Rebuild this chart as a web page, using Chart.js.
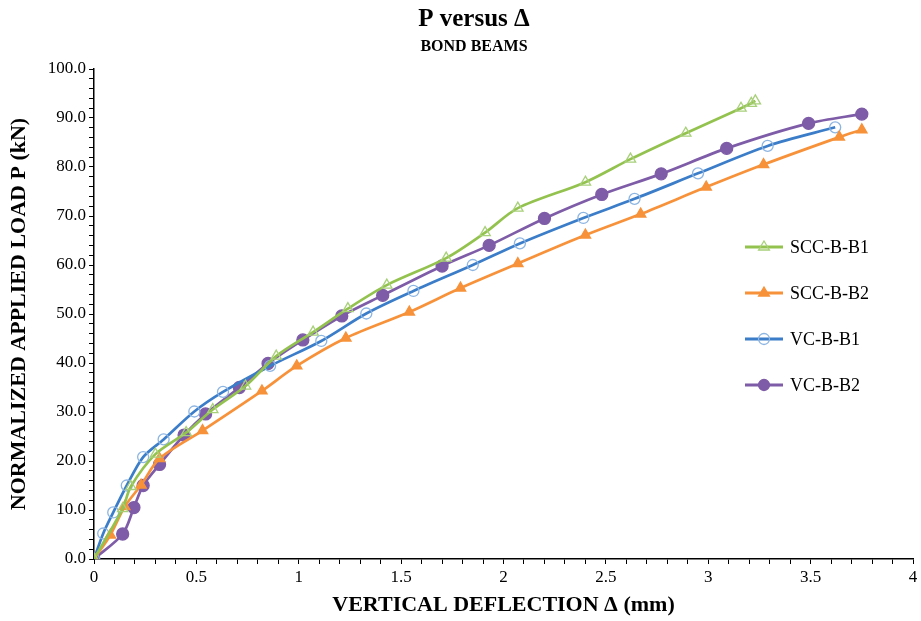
<!DOCTYPE html>
<html>
<head>
<meta charset="utf-8">
<script src="https://cdn.jsdelivr.net/npm/chart.js@4"></script>
<style>
  html, body { margin: 0; padding: 0; background: #fff; }
  #wrap { width: 921px; height: 621px; }
</style>
</head>
<body>
<div id="wrap"><canvas id="chart" width="921" height="621"></canvas></div>
<script>
// Series data (deflection in mm, load in kN)
const sccB1X = [0, 0.14, 0.18, 0.30, 0.45, 0.58, 0.74, 0.89, 1.07, 1.24, 1.43, 1.72, 1.91, 2.07, 2.40, 2.62, 2.89, 3.16, 3.21, 3.23];
const sccB1Y = [0, 10.3, 14.8, 21.4, 25.8, 30.5, 35.3, 41.4, 46.3, 51.1, 55.9, 61.4, 66.6, 71.6, 76.9, 81.6, 86.9, 92.0, 93.0, 93.5];

const sccB2X = [0, 0.08, 0.15, 0.23, 0.32, 0.53, 0.82, 0.99, 1.23, 1.54, 1.79, 2.07, 2.40, 2.67, 2.99, 3.27, 3.64, 3.75];
const sccB2Y = [0, 4.9, 10.7, 15.1, 20.5, 26.2, 34.3, 39.4, 45.1, 50.4, 55.3, 60.3, 66.1, 70.4, 75.9, 80.5, 86.1, 87.6];

const vcB1X = [0, 0.045, 0.094, 0.16, 0.24, 0.34, 0.49, 0.63, 0.86, 1.11, 1.33, 1.56, 1.85, 2.08, 2.39, 2.64, 2.95, 3.29, 3.62];
const vcB1Y = [0, 5.2, 9.5, 15.0, 20.8, 24.4, 30.1, 34.1, 39.4, 44.5, 50.1, 54.7, 60.0, 64.4, 69.6, 73.5, 78.7, 84.3, 88.1];

const vcB2X = [0, 0.14, 0.195, 0.24, 0.32, 0.44, 0.545, 0.71, 0.85, 1.02, 1.21, 1.41, 1.70, 1.93, 2.20, 2.48, 2.77, 3.09, 3.49, 3.75];
const vcB2Y = [0, 5.1, 10.5, 15.0, 19.3, 25.3, 29.6, 35.0, 39.9, 44.7, 49.6, 53.8, 59.8, 64.0, 69.5, 74.4, 78.6, 83.8, 88.9, 90.8];

const seriesNames = ['SCC-B-B1', 'SCC-B-B2', 'VC-B-B1', 'VC-B-B2'];

const serif = "'Liberation Serif', 'Times New Roman', serif";

function toPoints(xs, ys) {
    return xs.map((x, i) => ({ x: x, y: ys[i] }));
}

// Colours and markers for each series
const styles = [
    { line: '#93C24F', marker: '#A8D07A', fill: 'rgba(0,0,0,0)', shape: 'triangle', radius: 6 },
    { line: '#F7923A', marker: '#F7923A', fill: '#F7923A', shape: 'triangle', radius: 6 },
    { line: '#3B7DC8', marker: '#8DB5E2', fill: 'rgba(0,0,0,0)', shape: 'circle', radius: 5.5 },
    { line: '#7E5CA7', marker: '#7E5CA7', fill: '#7E5CA7', shape: 'circle', radius: 6 }
];

const seriesData = [
    toPoints(sccB1X, sccB1Y),
    toPoints(sccB2X, sccB2Y),
    toPoints(vcB1X, vcB1Y),
    toPoints(vcB2X, vcB2Y)
];

const datasets = seriesData.map((pts, i) => ({
    label: seriesNames[i],
    data: pts,
    borderColor: styles[i].line,
    borderWidth: 2.7,
    tension: 0.3,
    pointStyle: styles[i].shape,
    pointRadius: styles[i].radius,
    pointBorderWidth: 1.3,
    pointBorderColor: styles[i].marker,
    pointBackgroundColor: styles[i].fill,
    fill: false
}));

function isMult(v, step) {
    const r = v / step;
    return Math.abs(r - Math.round(r)) < 1e-6;
}

// Draws the two-line title and the legend inside the plot
const decorations = {
    id: 'decorations',
    afterDraw(chart) {
        const ctx = chart.ctx;
        ctx.save();
        ctx.fillStyle = '#000';
        ctx.textAlign = 'center';
        ctx.textBaseline = 'middle';
        ctx.font = 'bold 25px ' + serif;
        ctx.fillText('P versus \u0394', 474, 20);
        ctx.font = 'bold 16px ' + serif;
        ctx.fillText('BOND BEAMS', 474, 47);

        const rows = [247, 293, 339, 385];
        rows.forEach((y, i) => {
            const s = styles[i];
            ctx.strokeStyle = s.line;
            ctx.lineWidth = 3;
            ctx.beginPath();
            ctx.moveTo(745, y);
            ctx.lineTo(783, y);
            ctx.stroke();
            ctx.lineWidth = 1.3;
            ctx.strokeStyle = s.marker;
            ctx.fillStyle = s.fill;
            ctx.beginPath();
            if (s.shape === 'triangle') {
                const r = 6;
                ctx.moveTo(764, y - r);
                ctx.lineTo(764 + r * 0.9, y + r * 0.5);
                ctx.lineTo(764 - r * 0.9, y + r * 0.5);
                ctx.closePath();
            } else {
                ctx.arc(764, y, 5.5, 0, Math.PI * 2);
            }
            ctx.fill();
            ctx.stroke();
            ctx.fillStyle = '#000';
            ctx.font = '18px ' + serif;
            ctx.textAlign = 'left';
            ctx.fillText(seriesNames[i], 790, y + 1);
        });
        ctx.restore();
    }
};

const ctx = document.getElementById('chart').getContext('2d');
new Chart(ctx, {
    type: 'line',
    data: { datasets: datasets },
    plugins: [decorations],
    options: {
        responsive: false,
        animation: false,
        layout: { padding: { top: 69, right: 8, left: 0, bottom: 0 } },
        plugins: {
            legend: { display: false },
            tooltip: { enabled: false }
        },
        scales: {
            x: {
                type: 'linear',
                min: 0,
                max: 4,
                afterFit(scale) { scale.height = 62; },
                border: { display: true, color: '#000', width: 1.5 },
                grid: { drawOnChartArea: false, drawTicks: true, tickLength: 5, color: '#000' },
                ticks: {
                    stepSize: 0.1,
                    autoSkip: false,
                    maxRotation: 0,
                    color: '#000',
                    font: { family: serif, size: 17 },
                    padding: 3,
                    callback: function (value) {
                        if (!isMult(value, 0.5)) return '';
                        return String(Math.round(value * 2) / 2);
                    }
                },
                title: {
                    display: true,
                    text: 'VERTICAL DEFLECTION \u0394 (mm)',
                    color: '#000',
                    font: { family: serif, size: 22, weight: 'bold' },
                    padding: { top: 0, bottom: 2 }
                }
            },
            y: {
                type: 'linear',
                min: 0,
                max: 100,
                afterFit(scale) { scale.width = 94; },
                border: { display: true, color: '#000', width: 1.5 },
                grid: { drawOnChartArea: false, drawTicks: true, tickLength: 5, color: '#000' },
                ticks: {
                    stepSize: 2,
                    autoSkip: false,
                    color: '#000',
                    font: { family: serif, size: 17 },
                    padding: 3,
                    callback: function (value) {
                        if (!isMult(value, 10)) return '';
                        return value.toFixed(1);
                    }
                },
                title: {
                    display: true,
                    text: 'NORMALIZED APPLIED LOAD P (kN)',
                    color: '#000',
                    font: { family: serif, size: 22, weight: 'bold' },
                    padding: { top: 6, bottom: 0 }
                }
            }
        }
    }
});
</script>
</body>
</html>
